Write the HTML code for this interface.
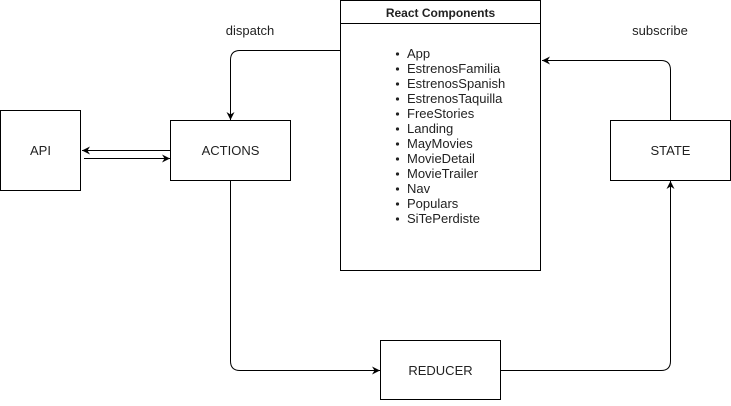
<!DOCTYPE html>
<html><head><style>
body{margin:0;background:#fff;}
svg text{font-family:"Liberation Sans",Arial,sans-serif;fill:#222;}
</style></head><body>
<svg width="731" height="401" viewBox="0 0 731 401" xmlns="http://www.w3.org/2000/svg">
<defs>
<marker id="a" markerWidth="10" markerHeight="10" refX="8" refY="5" orient="auto" markerUnits="userSpaceOnUse">
<path d="M0,1 L8,5 L0,9 L2.5,5 Z" fill="#000"/>
</marker>
</defs>
<g fill="#fff" stroke="#000" stroke-width="1">
<rect x="0.5" y="110.5" width="80" height="80"/>
<rect x="170.5" y="120.5" width="120" height="60"/>
<rect x="340.5" y="0.5" width="200" height="270"/>
<line x1="340" y1="23.5" x2="541" y2="23.5"/>
<rect x="380.5" y="340.5" width="120" height="59"/>
<rect x="610.5" y="120.5" width="120" height="60"/>
</g>
<g fill="none" stroke="#000" stroke-width="1">
<path d="M170,150.5 H82" marker-end="url(#a)"/>
<path d="M84,158.5 H170" marker-end="url(#a)"/>
<path d="M340,50.5 H240 Q230.5,50.5 230.5,60 V120" marker-end="url(#a)"/>
<path d="M230.5,181 V361 Q230.5,370.5 240,370.5 H380" marker-end="url(#a)"/>
<path d="M500,370.5 H661 Q670.5,370.5 670.5,361 V181" marker-end="url(#a)"/>
<path d="M670.5,120 V70 Q670.5,60.5 661,60.5 H542" marker-end="url(#a)"/>
</g>
<text x="440.5" y="17" font-size="12" font-weight="bold" text-anchor="middle">React Components</text>
<g font-size="13">
<text x="40.5" y="155" text-anchor="middle">API</text>
<text x="230.5" y="155" text-anchor="middle">ACTIONS</text>
<text x="440.5" y="375" text-anchor="middle">REDUCER</text>
<text x="670.5" y="155" text-anchor="middle">STATE</text>
<text x="250" y="35" text-anchor="middle">dispatch</text>
<text x="660" y="35" text-anchor="middle">subscribe</text>
</g>
<g font-size="13">
<text x="407" y="58">App</text>
<text x="407" y="73">EstrenosFamilia</text>
<text x="407" y="88">EstrenosSpanish</text>
<text x="407" y="103">EstrenosTaquilla</text>
<text x="407" y="118">FreeStories</text>
<text x="407" y="133">Landing</text>
<text x="407" y="148">MayMovies</text>
<text x="407" y="163">MovieDetail</text>
<text x="407" y="178">MovieTrailer</text>
<text x="407" y="193">Nav</text>
<text x="407" y="208">Populars</text>
<text x="407" y="223">SiTePerdiste</text>
</g>
<g fill="#222">
<circle cx="397.5" cy="54" r="1.6"/><circle cx="397.5" cy="69" r="1.6"/><circle cx="397.5" cy="84" r="1.6"/>
<circle cx="397.5" cy="99" r="1.6"/><circle cx="397.5" cy="114" r="1.6"/><circle cx="397.5" cy="129" r="1.6"/>
<circle cx="397.5" cy="144" r="1.6"/><circle cx="397.5" cy="159" r="1.6"/><circle cx="397.5" cy="174" r="1.6"/>
<circle cx="397.5" cy="189" r="1.6"/><circle cx="397.5" cy="204" r="1.6"/><circle cx="397.5" cy="219" r="1.6"/>
</g>
</svg>
</body></html>
